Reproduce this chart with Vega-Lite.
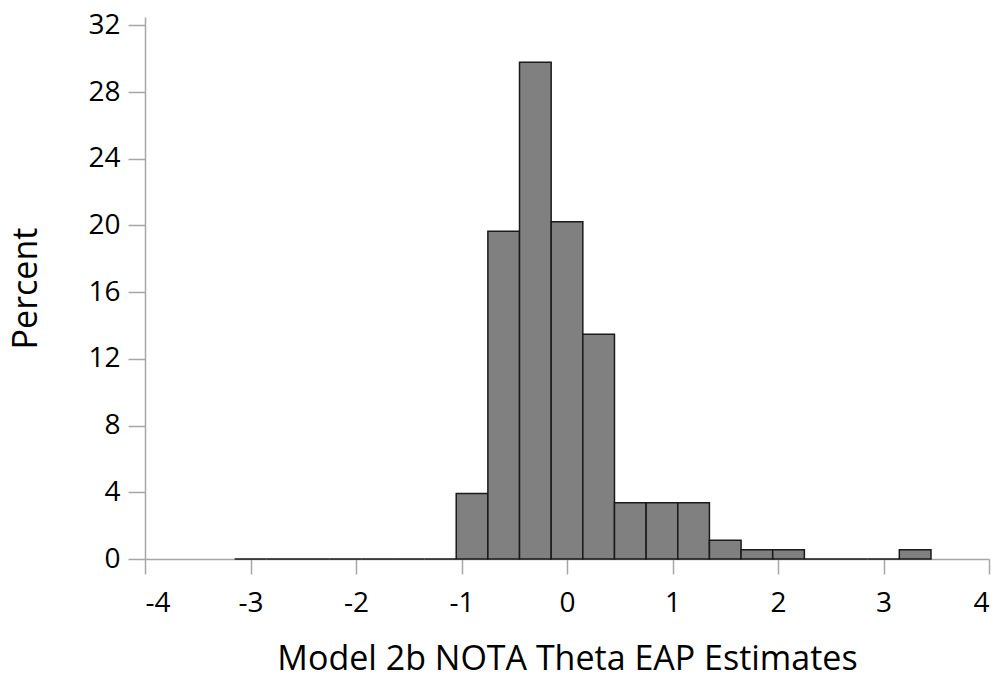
{
  "$schema": "https://vega.github.io/schema/vega-lite/v6.json",
  "width": 844,
  "height": 542,
  "autosize": {"type": "none"},
  "padding": {"left": 145, "top": 17, "right": 14, "bottom": 122},
  "background": "white",
  "config": {
    "view": {"stroke": null},
    "font": "Open Sans",
    "axis": {
      "domainColor": "#a6a6a6",
      "tickColor": "#a6a6a6",
      "domainWidth": 1.5,
      "tickWidth": 1.5,
      "labelFont": "Open Sans",
      "labelFontSize": 28,
      "labelColor": "#000000",
      "titleFont": "Open Sans",
      "titleFontSize": 34,
      "titleFontWeight": "normal",
      "titleColor": "#000000",
      "grid": false
    }
  },
  "data": {
    "values": [
      {"start": -3.15, "end": -2.85, "percent": 0},
      {"start": -2.85, "end": -2.55, "percent": 0},
      {"start": -2.55, "end": -2.25, "percent": 0},
      {"start": -2.25, "end": -1.95, "percent": 0},
      {"start": -1.95, "end": -1.65, "percent": 0},
      {"start": -1.65, "end": -1.35, "percent": 0},
      {"start": -1.35, "end": -1.05, "percent": 0},
      {"start": -1.05, "end": -0.75, "percent": 3.93},
      {"start": -0.75, "end": -0.45, "percent": 19.66},
      {"start": -0.45, "end": -0.15, "percent": 29.78},
      {"start": -0.15, "end": 0.15, "percent": 20.22},
      {"start": 0.15, "end": 0.45, "percent": 13.48},
      {"start": 0.45, "end": 0.75, "percent": 3.37},
      {"start": 0.75, "end": 1.05, "percent": 3.37},
      {"start": 1.05, "end": 1.35, "percent": 3.37},
      {"start": 1.35, "end": 1.65, "percent": 1.12},
      {"start": 1.65, "end": 1.95, "percent": 0.56},
      {"start": 1.95, "end": 2.25, "percent": 0.56},
      {"start": 2.25, "end": 2.55, "percent": 0},
      {"start": 2.55, "end": 2.85, "percent": 0},
      {"start": 2.85, "end": 3.15, "percent": 0},
      {"start": 3.15, "end": 3.45, "percent": 0.56}
    ]
  },
  "mark": {"type": "bar", "fill": "#808080", "stroke": "#1a1a1a", "strokeWidth": 1.5},
  "encoding": {
    "x": {
      "field": "start",
      "type": "quantitative",
      "scale": {"domain": [-4, 4], "nice": false, "zero": false},
      "axis": {
        "values": [-4, -3, -2, -1, 0, 1, 2, 3, 4],
        "labelExpr": "'' + datum.value",
        "title": "Model 2b NOTA Theta EAP Estimates",
        "tickSize": 15,
        "labelPadding": 15,
        "titlePadding": 25
      }
    },
    "x2": {"field": "end"},
    "y": {
      "field": "percent",
      "type": "quantitative",
      "scale": {"domain": [0, 32.5], "nice": false},
      "axis": {
        "values": [0, 4, 8, 12, 16, 20, 24, 28, 32],
        "title": "Percent",
        "tickSize": 17,
        "labelPadding": 8,
        "titlePadding": 44
      }
    },
    "y2": {"datum": 0}
  }
}
